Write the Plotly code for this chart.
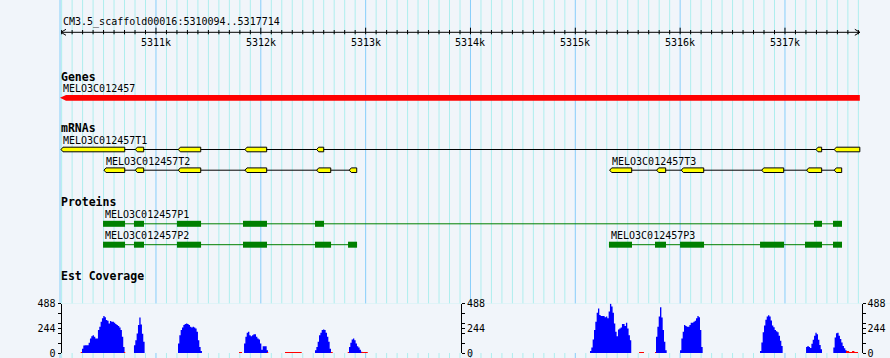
import plotly.graph_objects as go

# ---------------- data ----------------
SCAFFOLD = "CM3.5_scaffold00016"
REGION_START = 5310094
REGION_END = 5317714

RULER_MAJOR = [5311000, 5312000, 5313000, 5314000, 5315000, 5316000, 5317000]
RULER_LABELS = ["5311k", "5312k", "5313k", "5314k", "5315k", "5316k", "5317k"]

TRACK_TITLES = ["Genes", "mRNAs", "Proteins", "Est Coverage"]

GENE_NAME = "MELO3C012457"
GENE_START = 5310094
GENE_END = 5317714

MRNA_NAMES = ["MELO3C012457T1", "MELO3C012457T2", "MELO3C012457T3"]
MRNA_T1 = [(5310094, 5310702), (5310803, 5310883), (5311213, 5311427), (5311849, 5312056),
           (5312533, 5312600), (5317296, 5317350), (5317470, 5317714)]
MRNA_T2 = [(5310504, 5310702), (5310803, 5310883), (5311213, 5311427), (5311849, 5312056),
           (5312533, 5312667), (5312844, 5312915)]
MRNA_T3 = [(5315328, 5315538), (5315776, 5315862), (5316011, 5316225), (5316778, 5316988),
           (5317207, 5317350), (5317470, 5317541)]

PROT_NAMES = ["MELO3C012457P1", "MELO3C012457P2", "MELO3C012457P3"]
PROT_P1 = [(5310495, 5310705), (5310790, 5310886), (5311200, 5311430), (5311830, 5312059),
           (5312517, 5312603), (5317277, 5317353), (5317458, 5317544)]
PROT_P2 = [(5310495, 5310705), (5310790, 5310886), (5311200, 5311430), (5311830, 5312059),
           (5312517, 5312670), (5312832, 5312918)]
PROT_P3 = [(5315321, 5315541), (5315760, 5315865), (5315999, 5316228), (5316762, 5316991),
           (5317191, 5317353), (5317458, 5317544)]

# EST coverage: blocks of consecutive bins (start bp, values per bin)
COV_BIN = 12.7
COV_STARTS = [5310294, 5310790, 5311210, 5311840, 5312517, 5312841,
              5315140, 5315770, 5315999, 5316762, 5317201, 5317461]
COV_VALUES = [
    [43, 73, 76, 76, 76, 100, 143, 166, 176, 159, 143, 143, 226, 259, 309, 342,
     365, 352, 325, 319, 292, 315, 309, 309, 299, 286, 276, 266, 252, 226, 159, 60],
    [76, 126, 193, 276, 349, 280, 190, 110],
    [93, 176, 226, 252, 276, 286, 292, 286, 276, 259, 252, 259, 252, 242, 209, 126, 60, 20],
    [93, 159, 199, 209, 176, 166, 176, 186, 186, 159, 143, 133, 93, 33, 66, 66, 66, 27],
    [27, 60, 110, 176, 199, 226, 232, 226, 199, 159, 110, 43],
    [60, 100, 133, 143, 126, 93, 66, 53, 33, 13],
    [20, 53, 133, 226, 309, 398, 438, 375, 365, 365, 365, 352, 359, 342, 408, 485,
     458, 398, 292, 209, 166, 232, 242, 252, 286, 286, 266, 299, 242, 176, 126],
    [159, 259, 359, 452, 350, 226, 110, 27],
    [27, 143, 209, 276, 266, 259, 259, 276, 299, 299, 309, 319, 342, 365, 352, 226, 60],
    [20, 104, 204, 271, 328, 361, 371, 361, 321, 271, 254, 227, 214, 204, 171, 120, 70],
    [60, 70, 60, 50, 90, 130, 170, 200, 185, 130, 80, 37],
    [53, 154, 194, 200, 171, 137, 104, 70, 47, 27],
]
# low-coverage stretches drawn in red: (start, end, value)
COV_LOW = [(5310282, 5310294, 10), (5310695, 5310707, 10), (5311792, 5311821, 10),
           (5312059, 5312071, 10), (5312231, 5312390, 10), (5312667, 5312686, 10),
           (5312829, 5312841, 10), (5312959, 5313020, 10), (5315608, 5315655, 10),
           (5315760, 5315770, 10), (5317582, 5317612, 20), (5317612, 5317640, 10),
           (5317640, 5317662, 20), (5317662, 5317697, 10)]
COV_MAX = 488
COV_TICKVALS = [0, 97.6, 195.2, 244, 292.8, 390.4, 488]
COV_TICKTEXT = ["0", "", "", "244", "", "", "488"]

# ---------------- layout constants ----------------
W, H = 890, 358
PX_PER_BP = 629 / 6000.0
X0 = REGION_START - 61.0 / PX_PER_BP
X1 = X0 + W / PX_PER_BP

BG = "#F1F5FA"
MINOR_GRID = "#AEEEEE"
MAJOR_GRID = "#87CEFA"
MONO = "DejaVu Sans Mono"


def bp(px_len):
    return px_len / PX_PER_BP


fig = go.Figure()
shapes = []
annotations = []

# vertical grid (100 bp minor, 1000 bp major)
for pos in range((REGION_START // 100 + 1) * 100, REGION_END, 100):
    col = MAJOR_GRID if pos % 1000 == 0 else MINOR_GRID
    shapes.append(dict(type="line", xref="x", yref="y", x0=pos, x1=pos, y0=0, y1=H,
                       line=dict(color=col, width=1), layer="below"))
shapes.append(dict(type="line", xref="x", yref="y", x0=REGION_START - bp(1), x1=REGION_START - bp(1),
                   y0=0, y1=H, line=dict(color=MAJOR_GRID, width=1), layer="below"))

# horizontal coverage grid
for k in range(6):
    v = COV_MAX * k / 5
    shapes.append(dict(type="line", xref="paper", yref="y2", x0=60 / W, x1=1, y0=v, y1=v,
                       line=dict(color=MAJOR_GRID if k == 0 else MINOR_GRID, width=1), layer="below"))

# ---------------- ruler ----------------
RY = 32.3
rx, ry = [REGION_START, REGION_END, None], [RY, RY, None]
for pos in range((REGION_START // 100 + 1) * 100, REGION_END, 100):
    top = RY - 4.6 if pos in RULER_MAJOR else RY - 2.3
    rx += [pos, pos, None]
    ry += [top, RY + 2, None]
# arrow heads
a = bp(5)
rx += [REGION_START + a, REGION_START, REGION_START + a, None,
       REGION_END - a, REGION_END, REGION_END - a, None]
ry += [RY - 3, RY, RY + 3, None, RY - 3, RY, RY + 3, None]
fig.add_trace(go.Scatter(x=rx, y=ry, mode="lines", line=dict(color="black", width=1),
                         hoverinfo="skip", showlegend=False))
annotations.append(dict(text=f"{SCAFFOLD}:{REGION_START}..{REGION_END}", x=REGION_START, y=21.5,
                        xref="x", yref="y", xanchor="left", yanchor="middle", showarrow=False,
                        font=dict(family=MONO, size=10, color="black")))
for pos, lab in zip(RULER_MAJOR, RULER_LABELS):
    annotations.append(dict(text=lab, x=pos, y=42.3, xref="x", yref="y", xanchor="center",
                            yanchor="middle", showarrow=False,
                            font=dict(family=MONO, size=10, color="black")))

# ---------------- track titles ----------------
for title, y in zip(TRACK_TITLES, [76.5, 128, 201.5, 276]):
    annotations.append(dict(text=f"<b>{title}</b>", x=59 / W, y=y, xref="paper", yref="y",
                            xanchor="left", yanchor="middle", showarrow=False,
                            font=dict(family=MONO, size=11.5, color="black")))

# ---------------- gene ----------------
tip = bp(5)
shapes.append(dict(type="path", xref="x", yref="y",
                   path=f"M {GENE_START - bp(1)},97.8 L {GENE_START + tip},95 L {GENE_END},95 "
                        f"L {GENE_END},100.8 L {GENE_START + tip},100.8 Z",
                   fillcolor="#FF0000", line=dict(width=0), layer="above"))
annotations.append(dict(text=GENE_NAME, x=GENE_START, y=88, xref="x", yref="y", xanchor="left",
                        yanchor="middle", showarrow=False,
                        font=dict(family=MONO, size=10, color="black")))


# ---------------- mRNAs ----------------
def draw_mrna(exons, name, yc, ylab):
    s, e = exons[0][0], exons[-1][1]
    shapes.append(dict(type="line", xref="x", yref="y", x0=s, x1=e, y0=yc, y1=yc,
                       line=dict(color="black", width=1), layer="above"))
    d = bp(2)
    for (a0, a1) in exons:
        shapes.append(dict(type="path", xref="x", yref="y",
                           path=f"M {a0},{yc} L {a0 + d},{yc - 2.3} L {a1},{yc - 2.3} "
                                f"L {a1},{yc + 2.3} L {a0 + d},{yc + 2.3} Z",
                           fillcolor="#FFFF00", line=dict(color="black", width=1), layer="above"))
    annotations.append(dict(text=name, x=s, y=ylab, xref="x", yref="y", xanchor="left",
                            yanchor="middle", showarrow=False,
                            font=dict(family=MONO, size=10, color="black")))


draw_mrna(MRNA_T1, MRNA_NAMES[0], 149.5, 140.3)
draw_mrna(MRNA_T2, MRNA_NAMES[1], 170.2, 161)
draw_mrna(MRNA_T3, MRNA_NAMES[2], 170.2, 161)


# ---------------- proteins ----------------
def draw_prot(exons, name, yc, ylab):
    s, e = exons[0][0], exons[-1][1]
    shapes.append(dict(type="line", xref="x", yref="y", x0=s, x1=e, y0=yc, y1=yc,
                       line=dict(color="#008000", width=1), layer="above"))
    for (a0, a1) in exons:
        shapes.append(dict(type="rect", xref="x", yref="y", x0=a0, x1=a1, y0=yc - 3, y1=yc + 3,
                           fillcolor="#008000", line=dict(width=0), layer="above"))
    annotations.append(dict(text=name, x=s, y=ylab, xref="x", yref="y", xanchor="left",
                            yanchor="middle", showarrow=False,
                            font=dict(family=MONO, size=10, color="black")))


draw_prot(PROT_P1, PROT_NAMES[0], 223.8, 214.5)
draw_prot(PROT_P2, PROT_NAMES[1], 244.7, 235.5)
draw_prot(PROT_P3, PROT_NAMES[2], 244.7, 235.5)

# ---------------- coverage ----------------
cx, cy = [REGION_START], [0]
for st, vals in zip(COV_STARTS, COV_VALUES):
    for i, v in enumerate(vals):
        cx.append(st + i * COV_BIN)
        cy.append(v)
    cx.append(st + len(vals) * COV_BIN)
    cy.append(0)
cx.append(REGION_END)
cy.append(0)
fig.add_trace(go.Scatter(x=cx, y=cy, yaxis="y2", mode="lines", line_shape="hv",
                         line=dict(width=0, color="#0000FF"), fill="tozeroy",
                         fillcolor="#0000FF", hoverinfo="skip", showlegend=False))
lx, ly = [REGION_START], [0]
for (s, e, v) in COV_LOW:
    lx += [s, e]
    ly += [v, 0]
lx.append(REGION_END)
ly.append(0)
fig.add_trace(go.Scatter(x=lx, y=ly, yaxis="y2", mode="lines", line_shape="hv",
                         line=dict(width=0, color="#FF0000"), fill="tozeroy",
                         fillcolor="#FF0000", hoverinfo="skip", showlegend=False))

cov_dom = [(H - 353.0) / H, (H - 303.5) / H]
axis_common = dict(range=[0, COV_MAX], tickvals=COV_TICKVALS, ticktext=COV_TICKTEXT,
                   showline=True, linecolor="black", linewidth=1, ticks="outside",
                   ticklen=3, tickcolor="black", tickwidth=1, showgrid=False, zeroline=False,
                   tickfont=dict(family=MONO, size=10, color="black"), fixedrange=True,
                   automargin=False, ticklabeloverflow="allow")

fig.update_layout(
    width=W, height=H,
    margin=dict(l=0, r=0, t=0, b=0, pad=0, autoexpand=False),
    paper_bgcolor=BG, plot_bgcolor=BG,
    showlegend=False,
    xaxis=dict(range=[X0, X1], visible=False, domain=[0, 1], fixedrange=True, automargin=False),
    yaxis=dict(range=[H, 0], visible=False, domain=[0, 1], fixedrange=True, automargin=False),
    yaxis2=dict(domain=cov_dom, anchor="free", position=60.5 / W, side="left", **axis_common),
    yaxis3=dict(overlaying="y2", anchor="free", position=461 / W, side="right", **axis_common),
    yaxis4=dict(overlaying="y2", anchor="free", position=861.5 / W, side="right", **axis_common),
    shapes=shapes,
    annotations=annotations,
)
# dummy traces to make overlay axes render
fig.add_trace(go.Scatter(x=[None], y=[None], yaxis="y3", showlegend=False, hoverinfo="skip"))
fig.add_trace(go.Scatter(x=[None], y=[None], yaxis="y4", showlegend=False, hoverinfo="skip"))

fig.write_html("out.html", config={"displayModeBar": False},
               post_script="document.body.style.margin='0';document.body.style.padding='0';"
                           "document.body.style.background='" + BG + "';")
